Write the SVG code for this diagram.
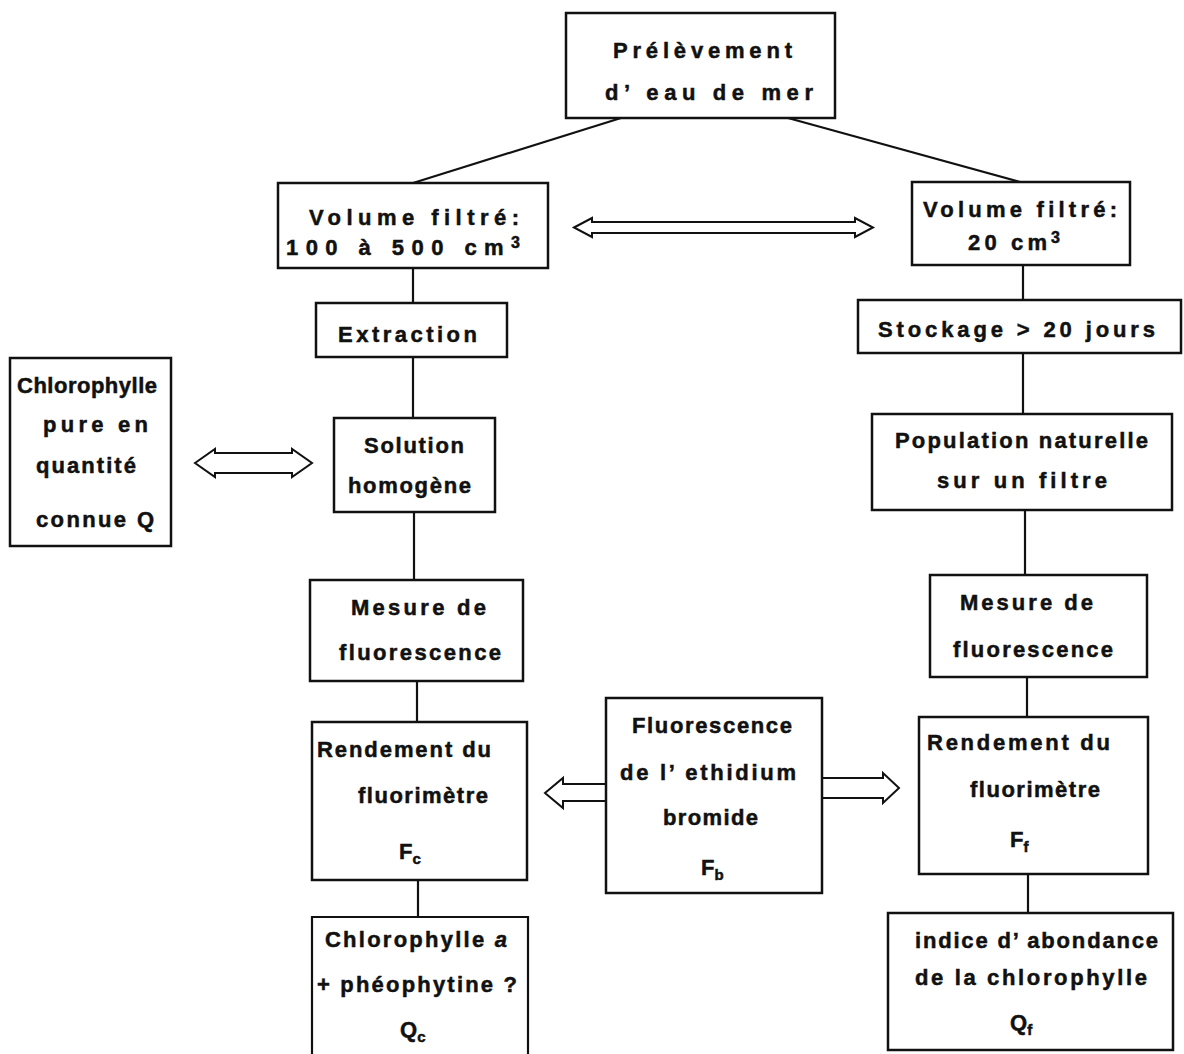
<svg xmlns="http://www.w3.org/2000/svg" width="1184" height="1054" viewBox="0 0 1184 1054">
<style>
.bx{fill:#fff;stroke:#111;stroke-width:2.5}
.ln{fill:none;stroke:#111;stroke-width:2.2}
.ar{fill:#fff;stroke:#111;stroke-width:2;stroke-linejoin:miter}
text{font-family:"Liberation Sans",Arial,sans-serif;font-weight:bold;font-size:22px;fill:#111;stroke:#111;stroke-width:0.5}
.sub{font-size:15px}
.sup{font-size:16px}
</style>
<rect width="1184" height="1054" fill="#fff"/>
<g id="connectors">
<line class="ln" x1="621" y1="118" x2="413" y2="183"/>
<line class="ln" x1="788" y1="118" x2="1020" y2="182"/>
<line class="ln" x1="413" y1="268" x2="413" y2="303"/>
<line class="ln" x1="413" y1="357" x2="413" y2="418"/>
<line class="ln" x1="414" y1="512" x2="414" y2="580"/>
<line class="ln" x1="417" y1="681" x2="417" y2="722"/>
<line class="ln" x1="418" y1="880" x2="418" y2="917"/>
<line class="ln" x1="1023" y1="265" x2="1023" y2="300"/>
<line class="ln" x1="1023" y1="353" x2="1023" y2="414"/>
<line class="ln" x1="1025" y1="510" x2="1025" y2="575"/>
<line class="ln" x1="1027" y1="677" x2="1027" y2="717"/>
<line class="ln" x1="1028" y1="874" x2="1028" y2="913"/>
<polygon class="ar" points="574,227.5 592,218 592,222 855,222 855,218 873,227.5 855,237 855,233 592,233 592,237"/>
<polygon class="ar" points="195,463 215,449 215,453 292,453 292,449 312,463 292,477 292,473 215,473 215,477"/>
<polygon class="ar" points="606,784 563,784 563,778 545,793 563,808 563,801 606,801"/>
<polygon class="ar" points="822,778 883,778 883,773 899,788 883,803 883,798 822,798"/>
</g>
<g id="n-prelevement">
<rect class="bx" x="566" y="13" width="269" height="105"/>
<text x="613" y="58" textLength="179" lengthAdjust="spacing">Prélèvement</text>
<text x="605" y="100" textLength="208" lengthAdjust="spacing">d’ eau de mer</text>
</g>
<g id="n-volume-left">
<rect class="bx" x="278" y="183" width="270" height="85"/>
<text x="309" y="225" textLength="210" lengthAdjust="spacing">Volume filtré:</text>
<text x="286" y="255" textLength="234" lengthAdjust="spacing">100 à 500 cm<tspan class="sup" dy="-7">3</tspan></text>
</g>
<g id="n-volume-right">
<rect class="bx" x="912" y="182" width="218" height="83"/>
<text x="923" y="217" textLength="194" lengthAdjust="spacing">Volume filtré:</text>
<text x="968" y="250" textLength="92" lengthAdjust="spacing">20 cm<tspan class="sup" dy="-7">3</tspan></text>
</g>
<g id="n-extraction">
<rect class="bx" x="316" y="303" width="191" height="54"/>
<text x="338" y="342" textLength="139" lengthAdjust="spacing">Extraction</text>
</g>
<g id="n-stockage">
<rect class="bx" x="858" y="300" width="323" height="53"/>
<text x="878" y="337" textLength="277" lengthAdjust="spacing">Stockage &gt; 20 jours</text>
</g>
<g id="n-chlorophylle-pure">
<rect class="bx" x="10" y="358" width="161" height="188"/>
<text x="17" y="393" textLength="140" lengthAdjust="spacing">Chlorophylle</text>
<text x="43" y="432" textLength="105" lengthAdjust="spacing">pure en</text>
<text x="36" y="473" textLength="100" lengthAdjust="spacing">quantité</text>
<text x="36" y="527" textLength="118" lengthAdjust="spacing">connue Q</text>
</g>
<g id="n-solution">
<rect class="bx" x="334" y="418" width="161" height="94"/>
<text x="364" y="453" textLength="100" lengthAdjust="spacing">Solution</text>
<text x="348" y="493" textLength="123" lengthAdjust="spacing">homogène</text>
</g>
<g id="n-population">
<rect class="bx" x="872" y="414" width="300" height="96"/>
<text x="895" y="448" textLength="253" lengthAdjust="spacing">Population naturelle</text>
<text x="937" y="488" textLength="170" lengthAdjust="spacing">sur un filtre</text>
</g>
<g id="n-mesure-left">
<rect class="bx" x="310" y="580" width="213" height="101"/>
<text x="351" y="615" textLength="135" lengthAdjust="spacing">Mesure de</text>
<text x="339" y="660" textLength="162" lengthAdjust="spacing">fluorescence</text>
</g>
<g id="n-mesure-right">
<rect class="bx" x="930" y="575" width="217" height="102"/>
<text x="960" y="610" textLength="133" lengthAdjust="spacing">Mesure de</text>
<text x="953" y="657" textLength="160" lengthAdjust="spacing">fluorescence</text>
</g>
<g id="n-rendement-left">
<rect class="bx" x="312" y="722" width="215" height="158"/>
<text x="317" y="757" textLength="174" lengthAdjust="spacing">Rendement du</text>
<text x="358" y="803" textLength="130" lengthAdjust="spacing">fluorimètre</text>
<text x="399" y="859">F<tspan class="sub" dy="5">c</tspan></text>
</g>
<g id="n-ethidium">
<rect class="bx" x="606" y="698" width="216" height="195"/>
<text x="632" y="733" textLength="160" lengthAdjust="spacing">Fluorescence</text>
<text x="620" y="780" textLength="176" lengthAdjust="spacing">de l’ ethidium</text>
<text x="663" y="825" textLength="95" lengthAdjust="spacing">bromide</text>
<text x="701" y="875">F<tspan class="sub" dy="5">b</tspan></text>
</g>
<g id="n-rendement-right">
<rect class="bx" x="919" y="717" width="229" height="157"/>
<text x="927" y="750" textLength="183" lengthAdjust="spacing">Rendement du</text>
<text x="970" y="797" textLength="130" lengthAdjust="spacing">fluorimètre</text>
<text x="1010" y="847">F<tspan class="sub" dy="5">f</tspan></text>
</g>
<g id="n-chlorophylle-a">
<path class="ln" stroke-width="2.5" d="M312,1056 V917 H528 V1056"/>
<text x="325" y="947" textLength="182" lengthAdjust="spacing">Chlorophylle <tspan font-style="italic">a</tspan></text>
<text x="317" y="992" textLength="200" lengthAdjust="spacing">+ phéophytine ?</text>
<text x="400" y="1037">Q<tspan class="sub" dy="5">c</tspan></text>
</g>
<g id="n-indice">
<rect class="bx" x="888" y="913" width="285" height="137"/>
<text x="915" y="948" textLength="243" lengthAdjust="spacing">indice d’ abondance</text>
<text x="915" y="985" textLength="232" lengthAdjust="spacing">de la chlorophylle</text>
<text x="1010" y="1030">Q<tspan class="sub" dy="5">f</tspan></text>
</g>
</svg>
